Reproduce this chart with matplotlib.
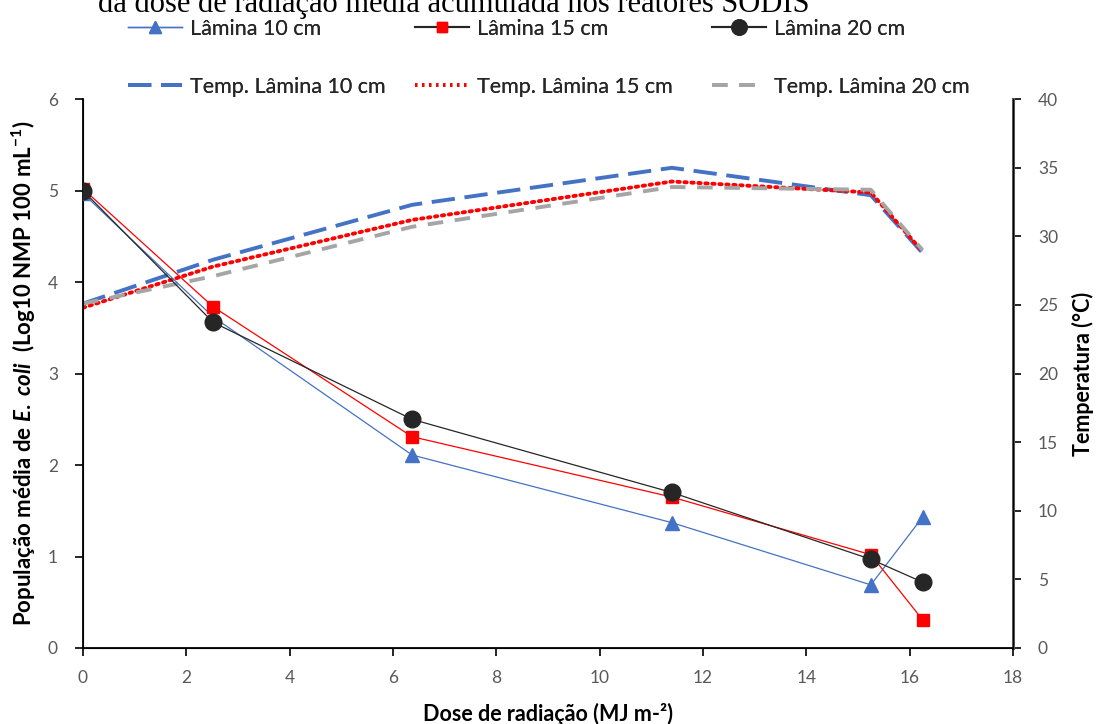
import matplotlib
matplotlib.use("Agg")
import matplotlib.pyplot as plt
from matplotlib.lines import Line2D

plt.rcParams['font.family'] = ['Lato', 'DejaVu Sans']
plt.rcParams['mathtext.fontset'] = 'custom'
plt.rcParams['mathtext.rm'] = 'Lato:bold'
plt.rcParams['mathtext.it'] = 'Lato:bold:italic'
plt.rcParams['mathtext.bf'] = 'Lato:bold'

# dose de radiação acumulada (MJ m-2)
dose = [0, 2.52, 6.37, 11.4, 15.25, 16.25]

# população média de E. coli (log10 NMP 100 mL-1)
lamina10 = [4.97, 3.62, 2.11, 1.37, 0.69, 1.43]
lamina15 = [5.02, 3.73, 2.31, 1.65, 1.02, 0.31]
lamina20 = [5.00, 3.56, 2.50, 1.70, 0.97, 0.72]

# temperatura (°C)
temp10 = [25.1, 28.3, 32.3, 35.0, 33.0, 28.8]
temp15 = [24.8, 27.8, 31.2, 34.0, 33.2, 28.9]
temp20 = [25.1, 27.1, 30.7, 33.6, 33.4, 29.0]

blue = '#4472C4'
red = '#FF0000'
dark = '#262626'
gray = '#A5A5A5'
tick_col = '#595959'

fig = plt.figure(figsize=(10.96, 7.24), dpi=100)
ax = fig.add_axes([0.0757, 0.105, 0.8485, 0.758])
ax2 = ax.twinx()

ax2.plot(dose, temp10, color=blue, lw=2.8, dashes=(6, 2.5))
ax2.plot(dose, temp15, color=red, lw=2.8, linestyle=(0, (0.6, 1.2)), dash_capstyle='round')
ax2.plot(dose, temp20, color=gray, lw=2.8, dashes=(4, 3))

ax.plot(dose, lamina10, color=blue, lw=0.9, marker='^', ms=10, zorder=3)
ax.plot(dose, lamina15, color=red, lw=0.9, marker='s', ms=8, zorder=3)
ax.plot(dose, lamina20, color=dark, lw=0.9, marker='o', ms=12, zorder=3)
ax.set_zorder(ax2.get_zorder() + 1)
ax.patch.set_visible(False)

ax.set_xlim(0, 18)
ax.set_ylim(0, 6)
ax2.set_ylim(0, 40)
ax.set_xticks(range(0, 19, 2))
ax.set_yticks(range(0, 7))
ax2.set_yticks(range(0, 41, 5))

for a in (ax, ax2):
    a.spines['top'].set_visible(False)
    a.tick_params(labelsize=12.5, labelcolor=tick_col, length=6, width=1.2)
ax.spines['left'].set_linewidth(1.3)
ax.spines['bottom'].set_linewidth(1.3)
ax2.spines['right'].set_linewidth(2.2)
ax2.spines['right'].set_color('#595959')
ax.tick_params(axis='x', pad=10)
ax.tick_params(axis='y', pad=12)
ax2.tick_params(axis='y', pad=12)

ax.set_xlabel('Dose de radiação (MJ m-²)', fontsize=15.5, fontweight='bold', labelpad=12)
ax.set_ylabel('População média de $E.\\ coli$  (Log10 NMP 100 mL$^{-1}$)',
              fontsize=16, fontweight='bold', labelpad=7)
ax2.set_ylabel('Temperatura (°C)', fontsize=15.5, fontweight='bold', labelpad=10)

fig.text(0.089, 0.983, 'da dose de radiação média acumulada nos reatores SODIS',
         family='Liberation Serif', fontsize=22, va='baseline', ha='left')

# legend: one small legend per column
col_handles = [
    [Line2D([], [], color=blue, lw=1, marker='^', ms=9),
     Line2D([], [], color=blue, lw=2.8, dashes=(6, 2.5))],
    [Line2D([], [], color=dark, lw=1.5, marker='s', ms=7, mfc=red, mec=red),
     Line2D([], [], color=red, lw=2.8, linestyle=(0, (0.6, 1.2)))],
    [Line2D([], [], color=dark, lw=1.5, marker='o', ms=11),
     Line2D([], [], color=gray, lw=2.8, dashes=(4, 3))],
]
col_labels = [['Lâmina 10 cm', 'Temp. Lâmina 10 cm'],
              ['Lâmina 15 cm', 'Temp. Lâmina 15 cm'],
              ['Lâmina 20 cm', 'Temp. Lâmina 20 cm']]
col_x = [128, 415, 712]
for hs, ls, px in zip(col_handles, col_labels, col_x):
    leg = fig.legend(hs, ls, loc='upper left', bbox_to_anchor=(px / 1096, 1 - 19 / 724),
                     frameon=False, fontsize=15.5, labelcolor=dark, handlelength=2.5,
                     handletextpad=0.4, borderpad=0, borderaxespad=0, labelspacing=1.75)
    fig.add_artist(leg)

fig.savefig('out.png', dpi=100)
